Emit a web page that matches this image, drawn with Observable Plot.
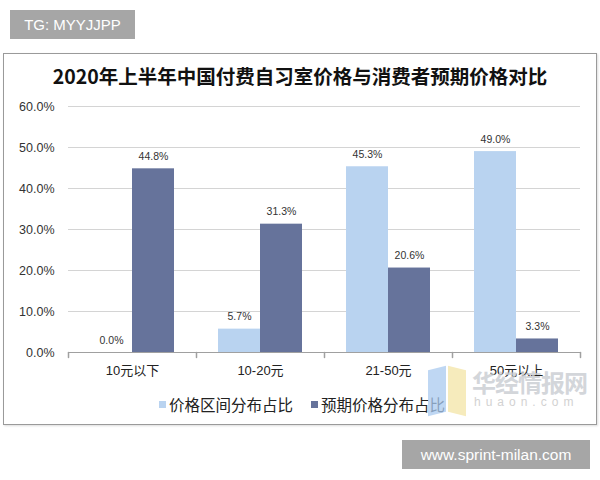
<!DOCTYPE html>
<html><head><meta charset="utf-8">
<script src="https://cdn.jsdelivr.net/npm/d3@7"></script>
<script src="https://cdn.jsdelivr.net/npm/@observablehq/plot@0.6"></script>
<style>
body{margin:0;width:600px;height:480px;position:relative;background:#fff;overflow:hidden;font-family:"Liberation Sans",Arial,"Noto Sans CJK SC",sans-serif}
.tag{position:absolute;background:#a6a6a6;color:#fff;font-size:15px;display:flex;align-items:center;justify-content:center}
#tg{left:10px;top:10px;width:125px;height:29px}
#site{left:402px;top:440px;width:188px;height:29px;font-size:15.5px}
#frame{position:absolute;left:3px;top:53px;width:592px;height:370px;border:1px solid #9a9a9a;box-shadow:1px 1px 2px #ddd}
#title{position:absolute;left:0;width:600px;top:63px;text-align:center;font-family:"Noto Sans CJK SC",sans-serif;font-weight:bold;font-size:19.5px;line-height:26px;color:#111}
#chart{position:absolute;left:0;top:90px}
#legend{position:absolute;left:0;width:604px;top:393px;display:flex;justify-content:center;gap:18px;font-family:"Noto Sans CJK SC",sans-serif;font-size:15.5px;color:#222;line-height:22px}
#legend span.it{display:flex;align-items:center}
#legend i{display:inline-block;width:7px;height:7px;margin-right:3px}
#wm{position:absolute;left:428px;top:362px;width:160px;height:60px;pointer-events:none}
#wm .b{position:absolute;left:0;top:6px;width:18px;height:46px;background:#a9c9ef;opacity:.75;transform:skewY(-14deg)}
#wm .y{position:absolute;left:20px;top:6px;width:18px;height:46px;background:#f3e4a6;opacity:.75;transform:skewY(14deg)}
#wm .t1{position:absolute;left:44px;top:2px;font-family:"Noto Sans CJK SC",sans-serif;font-weight:bold;font-size:24px;color:#c9ccd2;opacity:.8;letter-spacing:-1px}
#wm .t2{position:absolute;left:46px;top:33px;font-size:12px;color:#d2d2d2;letter-spacing:5px}
</style></head><body>
<div id="tg" class="tag">TG: MYYJJPP</div>
<div id="frame"></div>
<div id="title">2020年上半年中国付费自习室价格与消费者预期价格对比</div>
<div id="chart"></div>
<div id="legend"></div>
<div id="wm"><div class="b"></div><div class="y"></div><div class="t1">华经情报网</div><div class="t2">huaon.com</div></div>
<div id="site" class="tag">www.sprint-milan.com</div>
<script>
const categories = ["10元以下", "10-20元", "21-50元", "50元以上"];
const seriesNames = ["价格区间分布占比", "预期价格分布占比"];
const actualShare = [0.0, 5.7, 45.3, 49.0];
const expectedShare = [44.8, 31.3, 20.6, 3.3];
const yTicks = [0, 10, 20, 30, 40, 50, 60];
const colors = ["#b9d3f0", "#66739b"];

const data = categories.flatMap((c, i) => [
  {category: c, series: seriesNames[0], value: actualShare[i]},
  {category: c, series: seriesNames[1], value: expectedShare[i]}
]);

const tickShape = {draw(ctx, l) { ctx.moveTo(0, 0); ctx.lineTo(0, -l); }};
const fmt = d => d.toFixed(1) + "%";

const chart = Plot.plot({
  width: 600, height: 300,
  marginLeft: 67, marginRight: 19, marginTop: 16, marginBottom: 38,
  style: {background: "transparent", fontFamily: "'Liberation Sans', Arial, 'Noto Sans CJK SC', sans-serif", overflow: "visible"},
  fx: {domain: categories, padding: 0, label: null},
  x: {domain: seriesNames, paddingInner: 0, paddingOuter: 0.5, axis: null},
  y: {domain: [0, 60], label: null},
  color: {domain: seriesNames, range: colors},
  marks: [
    Plot.gridY(yTicks, {stroke: "#d4d4d4", strokeOpacity: 1}),
    Plot.axisY(yTicks, {tickSize: 0, tickPadding: 14, tickFormat: fmt, fontSize: 12.5, fill: "#333", label: null}),
    Plot.barY(data, {fx: "category", x: "series", y: "value", fill: "series"}),
    Plot.ruleY([0], {stroke: "#a0a0a0"}),
    Plot.text(data, {fx: "category", x: "series", y: "value", text: d => fmt(d.value), dy: -9, lineAnchor: "bottom", fontSize: 10.5, fill: "#333"}),
    Plot.axisFx({anchor: "bottom", tickSize: 0, tickPadding: 13, fontSize: 13, fill: "#222", label: null}),
    Plot.vector(categories, {fx: d => d, frameAnchor: "bottom-left", length: 5, rotate: 180, anchor: "start", shape: tickShape, stroke: "#a0a0a0"}),
    Plot.vector([categories[categories.length - 1]], {fx: d => d, frameAnchor: "bottom-right", length: 5, rotate: 180, anchor: "start", shape: tickShape, stroke: "#a0a0a0"})
  ]
});
document.getElementById("chart").appendChild(chart);

const legend = document.getElementById("legend");
seriesNames.forEach((name, i) => {
  const s = document.createElement("span");
  s.className = "it";
  s.innerHTML = `<i style="background:${colors[i]}"></i>${name}`;
  legend.appendChild(s);
});
</script>
</body></html>
